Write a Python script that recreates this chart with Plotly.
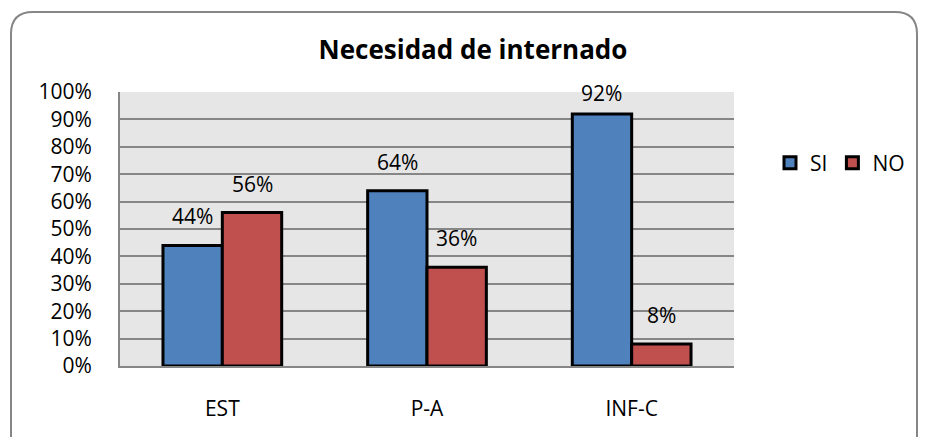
import plotly.graph_objects as go

categories = ["EST", "P-A", "INF-C"]
si_values = [0.44, 0.64, 0.92]
no_values = [0.56, 0.36, 0.08]
y_ticks = [i / 10 for i in range(11)]

W, H = 927, 437
L, R, T, B = 120, 734, 92, 366

def px(x):
    return (x - L) / (R - L)

def py(y):
    return (B - y) / (B - T)

font = "Open Sans"
FS = 21
BARGAP = 0.42
cat_w = (R - L) / len(categories)
bar_w = cat_w * (1 - BARGAP) / 2

fig = go.Figure()
series = [("SI", si_values, "#4F81BD", -1), ("NO", no_values, "#C0504D", 1)]
for name, vals, color, side in series:
    fig.add_trace(go.Bar(
        name=name, x=categories, y=vals,
        marker=dict(color=color, line=dict(color="black", width=3)),
    ))
    for c, v in zip(categories, vals):
        bar_top_px = B - v * (B - T)
        shift = 13
        if bar_top_px - shift - 27 < 82:
            shift = max(4, bar_top_px - 27 - 82)
        fig.add_annotation(
            x=c, y=v, xref="x", yref="y", text=f"{v:.0%}", showarrow=False,
            xshift=side * bar_w / 2, yshift=shift, yanchor="bottom",
            font=dict(size=FS, color="black", family=font),
        )

# rounded chart border
x0, y0, x1, y1, r = 11, 12, 917, 445, 22
path = (f"M {px(x0)},{py(y1)} L {px(x0)},{py(y0 + r)} "
        f"Q {px(x0)},{py(y0)} {px(x0 + r)},{py(y0)} "
        f"L {px(x1 - r)},{py(y0)} Q {px(x1)},{py(y0)} {px(x1)},{py(y0 + r)} "
        f"L {px(x1)},{py(y1)}")
fig.add_shape(type="path", xref="paper", yref="paper", path=path,
              line=dict(color="#868686", width=2), layer="below")

fig.update_layout(
    width=W, height=H,
    margin=dict(l=L, r=W - R, t=T, b=H - B),
    paper_bgcolor="white", plot_bgcolor="#E6E6E6",
    barmode="group", bargap=BARGAP, bargroupgap=0,
    title=dict(text="<b>Necesidad de internado</b>", x=473 / W, xanchor="center",
               y=1 - 50 / H, yanchor="middle",
               font=dict(size=26, color="black", family=font)),
    font=dict(family=font, size=FS, color="black"),
    showlegend=True,
    legend=dict(orientation="h", x=px(770), y=py(163), xanchor="left", yanchor="middle",
                font=dict(size=FS, color="black", family=font), bgcolor="rgba(0,0,0,0)",
                itemwidth=30, traceorder="normal"),
    xaxis=dict(showgrid=False, showline=True, linecolor="#868686", linewidth=2,
               ticks="", ticklabelstandoff=23, tickfont=dict(size=FS)),
    yaxis=dict(range=[0, 1], tickvals=y_ticks, tickformat=".0%",
               showgrid=True, gridcolor="#868686", gridwidth=1.5,
               showline=True, linecolor="#868686", linewidth=2, mirror=False,
               zeroline=False, ticks="", ticklabelstandoff=22, tickfont=dict(size=FS)),
)

fig.write_html("out.html", config={"displayModeBar": False},
               post_script="document.body.style.margin='0';document.body.style.overflow='hidden';")
